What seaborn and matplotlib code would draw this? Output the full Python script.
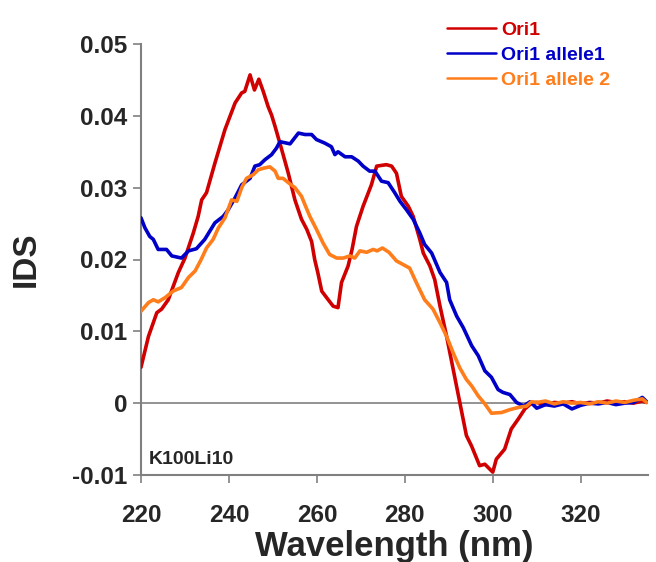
import numpy as np
import pandas as pd
import matplotlib
matplotlib.use("Agg")
import matplotlib.pyplot as plt
import seaborn as sns

ori1_wl = [220, 221.7, 223.6, 224.7, 226.2, 228.5, 230, 231.9, 233, 233.8, 234.9, 236.8,
           239.1, 241.4, 242.9, 243.6, 244.8, 245.8, 246.8, 247.8, 248.9, 249.7, 250.5, 252,
           253.5, 255, 256.5, 257.7, 258.8, 259.5, 260.2, 261.1, 262.2, 263.7, 264.8, 265.6,
           267.1, 268, 269, 270.5, 272.4, 273.6, 275.8, 277, 278.1, 279.2, 280.8, 281.9,
           283.4, 284.2, 285.7, 286.8, 288, 289.5, 291, 292.5, 294, 295.2, 297, 298.2,
           300, 300.8, 302.7, 304.2, 305.8, 307.3, 308.8, 310, 312, 314, 316, 318,
           320, 322, 324, 326, 328, 330, 332, 334, 335]
ori1_ids = [0.0050, 0.0093, 0.0126, 0.0131, 0.0144, 0.0182, 0.0202, 0.0237, 0.0260, 0.0283, 0.0293, 0.0334,
            0.0381, 0.0418, 0.0432, 0.0434, 0.0457, 0.0436, 0.0451, 0.0434, 0.0413, 0.0401, 0.0385, 0.0353,
            0.0320, 0.0283, 0.0256, 0.0242, 0.0225, 0.0200, 0.0182, 0.0156, 0.0147, 0.0135, 0.0133, 0.0168,
            0.0191, 0.0214, 0.0246, 0.0274, 0.0304, 0.0330, 0.0332, 0.0330, 0.0320, 0.0288, 0.0274, 0.0260,
            0.0228, 0.0209, 0.0191, 0.0172, 0.0135, 0.0093, 0.0047, 0.0001, -0.0045, -0.0060, -0.0087, -0.0085,
            -0.0096, -0.0078, -0.0064, -0.0036, -0.0022, -0.0008, 0.0000, 0.0001, -0.0002, 0.0001, 0.0000, 0.0002,
            -0.0001, 0.0001, 0.0000, 0.0003, 0.0001, 0.0002, 0.0000, 0.0003, 0.0001]

allele1_wl = [220, 220.9, 222, 222.8, 223.9, 225.8, 227, 229.2, 230.8, 232.6, 234.5, 236.8,
              238.7, 239.8, 241.4, 242.9, 244.8, 245.9, 247, 248.2, 249.7, 250.8, 251.6, 253.9,
              255.8, 257.3, 258.8, 259.9, 261.8, 263.3, 264.1, 264.8, 266.4, 267.9, 269.4, 270.5,
              272, 273.2, 274.7, 276.2, 277.7, 278.9, 280.4, 281.9, 283.4, 284.5, 286.1, 288,
              289.5, 290.2, 291.8, 293.3, 295.2, 296.7, 298.2, 299.7, 301.2, 302.3, 303.9, 305.4,
              307, 308.5, 310, 312, 314, 316, 318, 320, 322, 324, 326, 328, 330, 332, 334, 335]
allele1_ids = [0.0258, 0.0244, 0.0232, 0.0228, 0.0214, 0.0214, 0.0205, 0.0202, 0.0212, 0.0215, 0.0228, 0.0251,
               0.0260, 0.0269, 0.0286, 0.0304, 0.0313, 0.0330, 0.0332, 0.0339, 0.0346, 0.0355, 0.0364, 0.0361,
               0.0376, 0.0374, 0.0374, 0.0367, 0.0362, 0.0357, 0.0346, 0.0350, 0.0343, 0.0343, 0.0337, 0.0330,
               0.0323, 0.0323, 0.0309, 0.0307, 0.0293, 0.0281, 0.0269, 0.0256, 0.0237, 0.0221, 0.0209, 0.0182,
               0.0168, 0.0144, 0.0121, 0.0105, 0.0080, 0.0066, 0.0045, 0.0036, 0.0019, 0.0015, 0.0012, 0.0001,
               -0.0004, 0.0002, -0.0007, -0.0002, -0.0004, -0.0001, -0.0008, -0.0003, 0.0000, -0.0001, 0.0001, -0.0002,
               0.0000, 0.0001, 0.0008, 0.0002]

allele2_wl = [220, 221.7, 222.8, 223.9, 225.5, 227.3, 229.2, 230.8, 232.3, 233.6, 234.9, 236.4,
              237.6, 239.1, 240.6, 241.8, 242.9, 244, 245.5, 246.7, 247.8, 249.3, 250.5, 251.2,
              252.3, 253.5, 255, 256.5, 257.3, 258.4, 259.9, 261.4, 262.9, 264.5, 266, 267.5,
              268.6, 269.8, 271.3, 272.8, 273.7, 274.9, 276.4, 278.1, 279.6, 281.1, 282.6, 284.5,
              286.4, 288, 289.5, 291, 292.5, 294, 295.2, 296.7, 298.2, 299.7, 302, 303.9,
              305.8, 307.7, 308.8, 310, 312, 314, 316, 318, 320, 322, 324, 326,
              328, 330, 332, 334, 335]
allele2_ids = [0.0128, 0.0140, 0.0144, 0.0141, 0.0147, 0.0156, 0.0161, 0.0175, 0.0184, 0.0199, 0.0216, 0.0228,
               0.0244, 0.0258, 0.0283, 0.0281, 0.0300, 0.0313, 0.0318, 0.0325, 0.0327, 0.0329, 0.0323, 0.0313,
               0.0313, 0.0307, 0.0300, 0.0288, 0.0276, 0.0260, 0.0242, 0.0223, 0.0207, 0.0202, 0.0202, 0.0205,
               0.0202, 0.0212, 0.0210, 0.0214, 0.0212, 0.0216, 0.0210, 0.0198, 0.0193, 0.0188, 0.0168, 0.0144,
               0.0131, 0.0112, 0.0093, 0.0070, 0.0049, 0.0033, 0.0024, 0.0010, -0.0001, -0.0014, -0.0013, -0.0009,
               -0.0006, -0.0004, 0.0002, 0.0001, 0.0003, -0.0001, 0.0002, 0.0000, 0.0001, -0.0001, 0.0002, 0.0000,
               0.0003, 0.0001, 0.0004, 0.0006, 0.0001]

series_names = ["Ori1", "Ori1 allele1", "Ori1 allele 2"]
series_colors = ["#d00000", "#0000c8", "#ff7d1a"]
x_ticks = [220, 240, 260, 280, 300, 320]
y_ticks = [-0.01, 0, 0.01, 0.02, 0.03, 0.04, 0.05]
y_tick_labels = ["-0.01", "0", "0.01", "0.02", "0.03", "0.04", "0.05"]

frames = []
for name, wl, ids in zip(series_names,
                         [ori1_wl, allele1_wl, allele2_wl],
                         [ori1_ids, allele1_ids, allele2_ids]):
    frames.append(pd.DataFrame({"Wavelength": wl, "IDS": ids, "Sample": name}))
df = pd.concat(frames, ignore_index=True)

sns.set_style("white")
plt.rcParams["font.family"] = ["Liberation Sans", "DejaVu Sans"]
plt.rcParams["axes.unicode_minus"] = False

fig = plt.figure(figsize=(6.56, 5.62), dpi=100)
ax = fig.add_axes([141 / 656, 87 / 562, 507 / 656, 431 / 562])

ax.axhline(0, color="#808080", lw=1.2, zorder=1)
sns.lineplot(data=df, x="Wavelength", y="IDS", hue="Sample", hue_order=series_names,
             palette=series_colors, lw=2.6, sort=False, estimator=None, legend=False,
             ax=ax, zorder=3)

ax.set_xlim(220, 335.3)
ax.set_ylim(-0.01, 0.05)
ax.set_xticks(x_ticks)
ax.set_yticks(y_ticks)
ax.set_yticklabels(y_tick_labels)
for lab in ax.get_xticklabels() + ax.get_yticklabels():
    lab.set_fontweight("bold")
    lab.set_fontsize(17.5)
ax.tick_params(axis="both", direction="out", length=6, width=1.2, color="#808080",
               left=True, bottom=True)
ax.tick_params(axis="x", pad=15)
ax.tick_params(axis="y", pad=4)

for side in ["top", "right"]:
    ax.spines[side].set_visible(False)
for side in ["left", "bottom"]:
    ax.spines[side].set_color("#808080")
    ax.spines[side].set_linewidth(1.5)

ax.set_xlabel("Wavelength (nm)", fontsize=25, fontweight="bold", labelpad=2)
ax.set_ylabel("IDS", fontsize=24, fontweight="bold", labelpad=22)

ax.text(0.016, 0.026, "K100Li10", transform=ax.transAxes, fontsize=14,
        fontweight="bold", va="baseline", ha="left")

handles = [plt.Line2D([], [], color=c, lw=1.8) for c in series_colors]
leg = fig.legend(handles, series_names, loc="upper left",
                 bbox_to_anchor=(447 / 656, 1 - 21 / 562), frameon=False,
                 prop={"weight": "bold", "size": 14}, handlelength=2.5,
                 handletextpad=0.3, labelspacing=0.38, borderpad=0, borderaxespad=0)
for txt, c in zip(leg.get_texts(), series_colors):
    txt.set_color(c)

fig.savefig("out.png", dpi=100)
